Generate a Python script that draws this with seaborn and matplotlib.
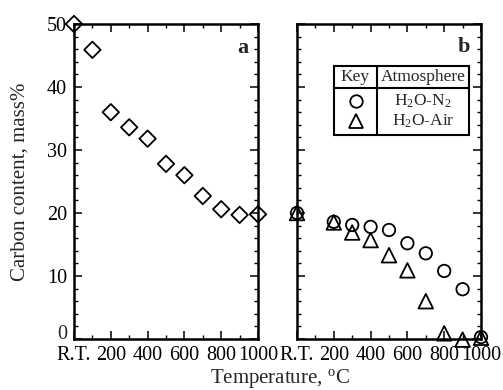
import matplotlib
matplotlib.use("Agg")
import matplotlib.pyplot as plt
import matplotlib.transforms as mtransforms
from matplotlib.patches import Rectangle
from matplotlib.lines import Line2D
from matplotlib.ticker import MultipleLocator
import seaborn as sns
import pandas as pd

sns.set_theme(style="white")
plt.rcParams["font.family"] = ["Liberation Serif", "DejaVu Serif"]
plt.rcParams["mathtext.fontset"] = "custom"
plt.rcParams["mathtext.rm"] = "Liberation Serif"
plt.rcParams["mathtext.it"] = "Liberation Serif:italic"
plt.rcParams["mathtext.bf"] = "Liberation Serif:bold"

# Panel a: starting material
temps_a = [0, 100, 200, 300, 400, 500, 600, 700, 800, 900, 1000]
carbon_a = [50.0, 45.9, 36.0, 33.6, 31.8, 27.8, 26.0, 22.7, 20.6, 19.7, 19.8]

# Panel b: two atmospheres
temps_b = [0, 200, 300, 400, 500, 600, 700, 800, 900, 1000]
carbon_n2 = [20.0, 18.6, 18.1, 17.8, 17.3, 15.2, 13.6, 10.8, 7.9, 0.3]
carbon_air = [20.0, 18.5, 16.9, 15.7, 13.3, 10.9, 6.0, 0.9, -0.1, 0.2]

xtick_vals = [0, 200, 400, 600, 800, 1000]
xtick_labels = ["R.T.", "200", "400", "600", "800", "1000"]
ytick_vals = [0, 10, 20, 30, 40, 50]

df_a = pd.DataFrame({"T": temps_a, "C": carbon_a})
df_b = pd.DataFrame({"T": temps_b, "N2": carbon_n2, "Air": carbon_air})

fig = plt.figure(figsize=(5.03, 3.90), dpi=100)
ax_a = fig.add_axes([74 / 503, 1 - 339 / 390, 184 / 503, 315 / 390])
ax_b = fig.add_axes([297 / 503, 1 - 339 / 390, 184 / 503, 315 / 390])

tick_fs = 14.5
label_fs = 15

for ax in (ax_a, ax_b):
    ax.set_xlim(0, 1000)
    ax.set_ylim(0, 50)
    ax.set_facecolor("white")
    for s in ax.spines.values():
        s.set_visible(True)
        s.set_color("black")
        s.set_linewidth(1.8)
    ax.xaxis.set_minor_locator(MultipleLocator(100))
    ax.yaxis.set_minor_locator(MultipleLocator(2))
    ax.set_xticks(xtick_vals)
    ax.set_xticklabels(xtick_labels)
    ax.tick_params(which="both", direction="in", top=True, right=True,
                   bottom=True, left=True, colors="black", labelsize=tick_fs,
                   pad=5)
    ax.tick_params(which="major", length=6, width=1.1)
    ax.tick_params(which="minor", length=3, width=1.0)
    ax.grid(False)

sns.scatterplot(data=df_a, x="T", y="C", ax=ax_a, marker="D", s=70,
                facecolors="none", edgecolors="black", linewidth=1.3,
                clip_on=False, zorder=5)
sns.scatterplot(data=df_b, x="T", y="N2", ax=ax_b, marker="o", s=80,
                facecolors="none", edgecolors="black", linewidth=1.3,
                clip_on=False, zorder=5)
sns.scatterplot(data=df_b, x="T", y="Air", ax=ax_b, marker="^", s=110,
                facecolors="none", edgecolors="black", linewidth=1.3,
                clip_on=False, zorder=5)

for ax in (ax_a, ax_b):
    ax.set_xlabel("")
    ax.set_ylabel("")

# y tick labels only on the left panel, with the zero label lifted
ax_a.set_yticks(ytick_vals)
ax_a.set_yticklabels([""] + [str(v) for v in ytick_vals[1:]])
ax_a.text(-0.035, 0, "0", transform=mtransforms.blended_transform_factory(
    ax_a.transAxes, ax_a.transData), ha="right", va="baseline",
    fontsize=tick_fs)
ax_b.set_yticks(ytick_vals)
ax_b.set_yticklabels([])

ax_a.text(0.946, 0.924, "a", transform=ax_a.transAxes, ha="right",
          va="center", fontsize=16, fontweight="bold")
ax_b.text(0.94, 0.928, "b", transform=ax_b.transAxes, ha="right",
          va="center", fontsize=16, fontweight="bold")

fig.text(20 / 503, 1 - 182 / 390, "Carbon content, mass%", rotation=90,
         ha="center", va="center", fontsize=label_fs)
fig.text(280 / 503, 1 - 378 / 390, r"Temperature, $^{\rm o}$C",
         ha="center", va="center", fontsize=label_fs)

# key table inside panel b
x0, x1, xm = (334 - 297) / 184, (469 - 297) / 184, (377 - 297) / 184
y_top, y_bot, y_mid = (339 - 66) / 315, (339 - 135) / 315, (339 - 88) / 315
lw_box = 1.5
ax_b.add_patch(Rectangle((x0, y_bot), x1 - x0, y_top - y_bot,
                         transform=ax_b.transAxes, fill=True,
                         facecolor="white", edgecolor="black", lw=lw_box,
                         zorder=6))
ax_b.add_line(Line2D([x0, x1], [y_mid, y_mid], transform=ax_b.transAxes,
                     color="black", lw=lw_box, zorder=7))
ax_b.add_line(Line2D([xm, xm], [y_bot, y_top], transform=ax_b.transAxes,
                     color="black", lw=lw_box, zorder=7))
tab_fs = 12.5
ax_b.text((x0 + xm) / 2, (y_top + y_mid) / 2, "Key", transform=ax_b.transAxes,
          ha="center", va="center", fontsize=tab_fs, zorder=8)
ax_b.text((xm + x1) / 2, (y_top + y_mid) / 2, "Atmosphere",
          transform=ax_b.transAxes, ha="center", va="center",
          fontsize=tab_fs, zorder=8)
row1 = (339 - 101) / 315
row2 = (339 - 121) / 315
ax_b.plot([(x0 + xm) / 2], [row1], marker="o", ms=9, mfc="none", mec="black",
          mew=1.3, transform=ax_b.transAxes, clip_on=False, zorder=8)
ax_b.plot([(x0 + xm) / 2], [row2], marker="^", ms=10, mfc="none", mec="black",
          mew=1.3, transform=ax_b.transAxes, clip_on=False, zorder=8)
ax_b.text((xm + x1) / 2, row1, r"H$_2$O-N$_2$", transform=ax_b.transAxes,
          ha="center", va="center", fontsize=tab_fs, zorder=8)
ax_b.text((xm + x1) / 2, row2, r"H$_2$O-Air", transform=ax_b.transAxes,
          ha="center", va="center", fontsize=tab_fs, zorder=8)

fig.savefig("out.png", dpi=100, facecolor="white")
